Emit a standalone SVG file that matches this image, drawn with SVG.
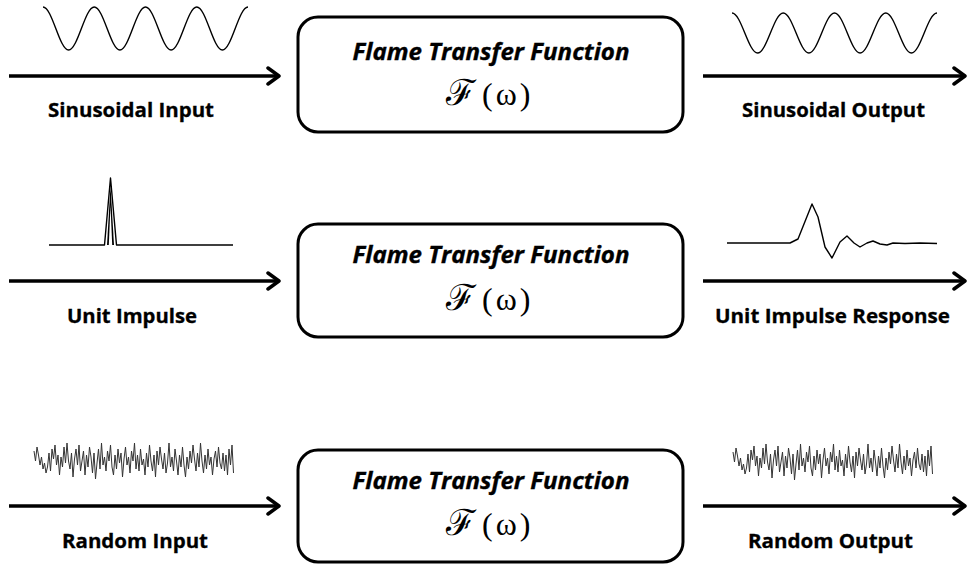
<svg xmlns="http://www.w3.org/2000/svg" xmlns:xlink="http://www.w3.org/1999/xlink" width="967" height="565" viewBox="0 0 967 565">
<style>
.box{fill:#fff;stroke:#000;stroke-width:3}
.ttl{font-family:"Open Sans","Liberation Sans",sans-serif;font-weight:bold;font-style:italic;font-size:23px;fill:#000;stroke:#000;stroke-width:0.35;text-anchor:middle}
.lbl{font-family:"Open Sans","Liberation Sans",sans-serif;font-weight:bold;font-size:20px;fill:#000;stroke:#000;stroke-width:0.3;text-anchor:middle}
.fw{fill:#000}
.math{font-family:"Liberation Serif","DejaVu Serif",serif;font-size:32px}
.scr{font-family:"DejaVu Serif","Liberation Serif",serif;font-size:36px}
.arr{fill:none;stroke:#000;stroke-width:3.5;marker-end:url(#ah)}
.sig{fill:none;stroke:#000;stroke-width:1.4;stroke-linejoin:round}
.nz{fill:none;stroke:#333;stroke-width:1}
</style>
<defs>
<marker id="ah" markerUnits="userSpaceOnUse" viewBox="0 0 20 20" markerWidth="20" markerHeight="20" refX="14" refY="10" orient="auto">
<path d="M3,2 L14,10 L3,18" fill="none" stroke="#000" stroke-width="3.5" stroke-linecap="round" stroke-linejoin="round"/>
</marker>
<path id="noise" d="M0,-8 L1.5,2 3,-12 4.5,-4 6,6 7.5,-2 9,10 10.5,4 12,14 13.5,8 15,-6 16.5,12 18,-10 19.5,0 21,-14 22.5,6 24,-4 25.5,16 27,-2 28.5,8 30,-12 31.5,4 33,-16 34.5,2 36,10 37.5,-6 39,18 40.5,0 42,-10 43.5,6 45,-14 46.5,12 48,2 49.5,-8 51,16 52.5,-4 54,8 55.5,-12 57,-2 58.5,14 60,-6 61.5,20 63,4 64.5,-10 66,10 67.5,-16 69,6 70.5,-2 72,12 73.5,-8 75,2 76.5,-14 78,8 79.5,16 81,-4 82.5,10 84,-10 85.5,4 87,-6 88.5,18 90,0 91.5,-12 93,6 94.5,-2 96,14 97.5,-8 99,2 100.5,-16 102,10 103.5,-4 105,12 106.5,-10 108,6 109.5,0 111,16 112.5,-6 114,8 115.5,-14 117,2 118.5,12 120,-4 121.5,18 123,-8 124.5,6 126,-12 127.5,0 129,10 130.5,-6 132,14 133.5,4 135,-16 136.5,8 138,-2 139.5,12 141,-10 142.5,2 144,16 145.5,-4 147,8 148.5,-12 150,6 151.5,18 153,-2 154.5,10 156,-8 157.5,4 159,-14 160.5,0 162,12 163.5,-6 165,8 166.5,-16 168,2 169.5,14 171,-4 172.5,10 174,-10 175.5,6 177,-2 178.5,16 180,0 181.5,-8 183,8 184.5,-12 186,4 187.5,10 189,-6 190.5,12 192,-4 193.5,16 195,-10 196.5,6 198,-14 199.5,14"/>
</defs>
<rect width="967" height="565" fill="#fff"/>

<g id="connectors">
<path class="arr" d="M9,76 H279"/>
<path class="arr" d="M703,76 H965"/>
<path class="arr" d="M9,281 H279"/>
<path class="arr" d="M703,281 H965"/>
<path class="arr" d="M9,506 H279"/>
<path class="arr" d="M703,506 H965"/>
</g>

<g id="sinusoidal-input">
<path class="sig" d="M43,7 C52.3,7 59.3,50 68.6,50 S84.9,7 94.25,7 S110.6,50 119.9,50 S136.2,7 145.5,7 S161.8,50 171.1,50 S187.4,7 196.75,7 S213.1,50 222.4,50 S238.7,7 248,7"/>
<text class="lbl" x="131" y="117" textLength="166" lengthAdjust="spacingAndGlyphs">Sinusoidal Input</text>
</g>

<g id="ftf-1">
<rect class="box" x="298" y="17" width="385" height="115" rx="20"/>
<text class="ttl" x="491" y="60" textLength="277" lengthAdjust="spacingAndGlyphs">Flame Transfer Function</text>
<text class="fw" x="446" y="105"><tspan class="scr">ℱ</tspan><tspan class="math" dx="6" letter-spacing="3">(ω)</tspan></text>
</g>

<g id="sinusoidal-output">
<path class="sig" d="M732,13 C741.3,13 748.3,53 757.6,53 S773.9,13 783.25,13 S799.6,53 808.9,53 S825.2,13 834.5,13 S850.8,53 860.1,53 S876.4,13 885.75,13 S902.1,53 911.4,53 S927.7,13 937,13"/>
<text class="lbl" x="833.5" y="117" textLength="183" lengthAdjust="spacingAndGlyphs">Sinusoidal Output</text>
</g>

<g id="unit-impulse">
<path class="sig" stroke-width="2" d="M49,245 H104.5 L110.5,178 L116.5,245 H233"/>
<path d="M107,245 L110.5,186 L114,245 Z" fill="#000"/>
<path d="M108.8,245 L110.5,205 L112.2,245 Z" fill="#fff"/>
<text class="lbl" x="132" y="323" textLength="130" lengthAdjust="spacingAndGlyphs">Unit Impulse</text>
</g>

<g id="ftf-2">
<rect class="box" x="298" y="224" width="385" height="113" rx="20"/>
<text class="ttl" x="491" y="263" textLength="277" lengthAdjust="spacingAndGlyphs">Flame Transfer Function</text>
<text class="fw" x="446" y="310"><tspan class="scr">ℱ</tspan><tspan class="math" dx="6" letter-spacing="3">(ω)</tspan></text>
</g>

<g id="unit-impulse-response">
<path class="sig" stroke-width="2" d="M727,243 H790 L798,239 L812,204 L818,217 L825,247 L832,258 L840,242 L847,236 L854,243 L860,247 L867,243 L873,241 L880,244 L887,245 L893,243 L905,243.5 L920,243 L937,243.5"/>
<text class="lbl" x="832.5" y="323" textLength="235" lengthAdjust="spacingAndGlyphs">Unit Impulse Response</text>
</g>

<g id="random-input">
<use xlink:href="#noise" href="#noise" class="nz" transform="translate(34,459)"/>
<text class="lbl" x="135" y="548" textLength="146" lengthAdjust="spacingAndGlyphs">Random Input</text>
</g>

<g id="ftf-3">
<rect class="box" x="298" y="450" width="385" height="112" rx="20"/>
<text class="ttl" x="491" y="489" textLength="277" lengthAdjust="spacingAndGlyphs">Flame Transfer Function</text>
<text class="fw" x="446" y="535"><tspan class="scr">ℱ</tspan><tspan class="math" dx="6" letter-spacing="3">(ω)</tspan></text>
</g>

<g id="random-output">
<use xlink:href="#noise" href="#noise" class="nz" transform="translate(733,460)"/>
<text class="lbl" x="830.5" y="548" textLength="165" lengthAdjust="spacingAndGlyphs">Random Output</text>
</g>
</svg>
